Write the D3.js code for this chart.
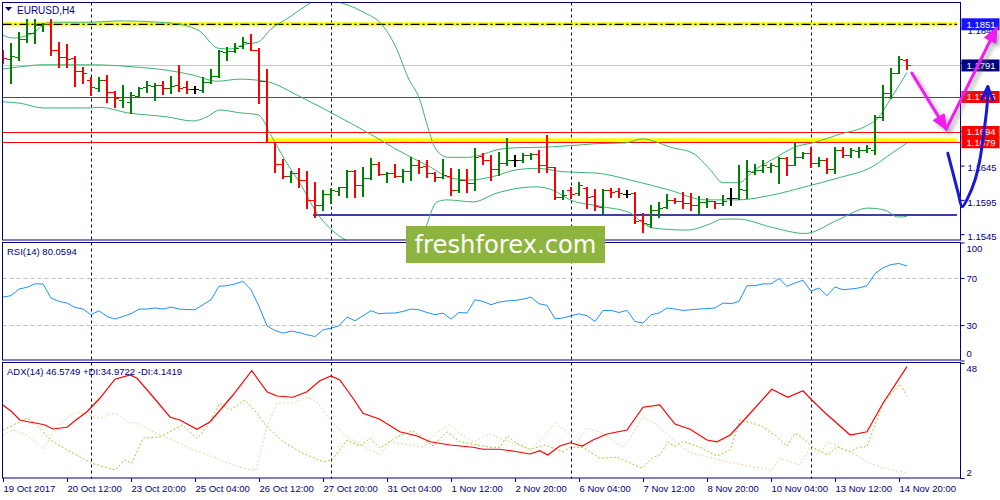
<!DOCTYPE html>
<html><head><meta charset="utf-8">
<script src="https://cdn.jsdelivr.net/npm/d3@7"></script>
<style>
html,body{margin:0;padding:0;background:#fff;}
svg{display:block;font-family:"Liberation Sans",Arial,sans-serif;}
</style></head><body>
<svg id="c" width="1000" height="500"></svg>
<script>
// ---------------- DATA ----------------
const symbol = "EURUSD,H4";
const timeLabels = ["19 Oct 2017","20 Oct 12:00","23 Oct 20:00","25 Oct 04:00","26 Oct 12:00","27 Oct 20:00","31 Oct 04:00","1 Nov 12:00","2 Nov 20:00","6 Nov 04:00","7 Nov 12:00","8 Nov 20:00","10 Nov 04:00","13 Nov 12:00","14 Nov 20:00"];
const timeLabelBars = [0,8,16,24,32,40,48,56,64,72,80,88,96,104,112];
const separatorBars = [11,41,71,101];

const open = [1.1809,1.1800,1.1803,1.1830,1.1838,1.1850,1.1851,1.1814,1.1803,1.1802,
1.1783,1.1770,1.1758,1.1770,1.1752,1.1741,1.1738,1.1746,1.1760,1.1761,
1.1762,1.1758,1.1762,1.1760,1.1757,1.1755,1.1767,1.1776,1.1811,1.1812,
1.1819,1.1824,1.1814,1.1768,1.1679,1.1647,1.1630,1.1634,1.1624,1.1595,
1.1588,1.1604,1.1608,1.1614,1.1637,1.1617,1.1627,1.1647,1.1633,1.1634,
1.1630,1.1637,1.1646,1.1644,1.1634,1.1628,1.1630,1.1609,1.1624,1.1620,
1.1659,1.1653,1.1640,1.1649,1.1653,1.1653,1.1660,1.1662,1.1646,1.1643,
1.1599,1.1609,1.1605,1.1612,1.1601,1.1585,1.1609,1.1608,1.1604,1.1605,
1.1566,1.1560,1.1580,1.1585,1.1595,1.1593,1.1590,1.1588,1.1592,1.1593,
1.1590,1.1598,1.1598,1.1609,1.1636,1.1639,1.1643,1.1644,1.1656,1.1646,
1.1657,1.1663,1.1649,1.1653,1.1640,1.1668,1.1660,1.1666,1.1668,1.1668,
1.1716,1.1751,1.1780,1.1799];
const high = [1.1814,1.1824,1.1840,1.1859,1.1859,1.1853,1.1859,1.1825,1.1822,1.1805,
1.1789,1.1774,1.1774,1.1777,1.1754,1.1762,1.1752,1.1760,1.1768,1.1765,
1.1768,1.1776,1.1792,1.1768,1.1761,1.1774,1.1786,1.1814,1.1818,1.1824,
1.1832,1.1837,1.1816,1.1786,1.1679,1.1655,1.1637,1.1641,1.1637,1.1621,
1.1609,1.1612,1.1614,1.1639,1.1639,1.1643,1.1656,1.1650,1.1636,1.1647,
1.1640,1.1657,1.1653,1.1653,1.1636,1.1655,1.1641,1.1640,1.1640,1.1671,
1.1663,1.1660,1.1665,1.1685,1.1660,1.1663,1.1663,1.1668,1.1690,1.1643,
1.1609,1.1614,1.1621,1.1614,1.1611,1.1611,1.1612,1.1612,1.1609,1.1606,
1.1576,1.1588,1.1592,1.1604,1.1598,1.1606,1.1605,1.1601,1.1598,1.1593,
1.1602,1.1612,1.1646,1.1653,1.1647,1.1653,1.1649,1.1657,1.1657,1.1678,
1.1665,1.1672,1.1657,1.1656,1.1672,1.1672,1.1671,1.1672,1.1675,1.1719,
1.1762,1.1787,1.1805,1.1800];
const low = [1.1795,1.1765,1.1799,1.1825,1.1824,1.1841,1.1806,1.1789,1.1789,1.1761,
1.1765,1.1748,1.1754,1.1738,1.1730,1.1730,1.1722,1.1745,1.1752,1.1741,
1.1749,1.1751,1.1754,1.1751,1.1751,1.1752,1.1765,1.1774,1.1799,1.1811,
1.1816,1.1814,1.1736,1.1679,1.1636,1.1627,1.1621,1.1614,1.1583,1.1570,
1.1580,1.1590,1.1602,1.1599,1.1599,1.1601,1.1625,1.1631,1.1621,1.1628,
1.1621,1.1624,1.1634,1.1628,1.1623,1.1627,1.1602,1.1606,1.1606,1.1609,
1.1647,1.1624,1.1631,1.1646,1.1644,1.1650,1.1655,1.1636,1.1636,1.1596,
1.1596,1.1598,1.1602,1.1583,1.1580,1.1576,1.1599,1.1599,1.1599,1.1561,
1.1548,1.1555,1.1570,1.1583,1.1590,1.1583,1.1580,1.1574,1.1585,1.1583,
1.1588,1.1588,1.1596,1.1598,1.1633,1.1636,1.1636,1.1620,1.1631,1.1646,
1.1656,1.1643,1.1644,1.1634,1.1634,1.1657,1.1657,1.1657,1.1665,1.1662,
1.1711,1.1744,1.1780,1.1786];
const close = [1.1802,1.1805,1.1830,1.1838,1.1850,1.1851,1.1814,1.1803,1.1800,1.1783,
1.1780,1.1760,1.1770,1.1752,1.1744,1.1745,1.1748,1.1758,1.1762,1.1762,
1.1758,1.1761,1.1758,1.1757,1.1757,1.1767,1.1776,1.1812,1.1812,1.1816,
1.1825,1.1814,1.1768,1.1679,1.1647,1.1630,1.1634,1.1624,1.1595,1.1588,
1.1604,1.1609,1.1614,1.1637,1.1617,1.1627,1.1647,1.1633,1.1634,1.1630,
1.1637,1.1646,1.1643,1.1634,1.1628,1.1631,1.1609,1.1624,1.1620,1.1657,
1.1653,1.1640,1.1649,1.1653,1.1653,1.1660,1.1662,1.1646,1.1643,1.1599,
1.1602,1.1604,1.1617,1.1599,1.1586,1.1609,1.1606,1.1605,1.1604,1.1564,
1.1561,1.1580,1.1583,1.1595,1.1593,1.1590,1.1588,1.1592,1.1593,1.1590,
1.1593,1.1598,1.1611,1.1637,1.1639,1.1646,1.1646,1.1656,1.1646,1.1657,
1.1663,1.1649,1.1653,1.1640,1.1668,1.1660,1.1668,1.1668,1.1671,1.1716,
1.1751,1.1780,1.1800,1.1791];

// Bollinger bands: [bar, price]
const bbUpper = [[0,1.1835],[1.25,1.1831],[3.75,1.1838],[5,1.1850],[5.9,1.1854],[11,1.1854],[14.6,1.1856],[19.6,1.1854],[22.5,1.1850],[24.6,1.1841],[26.9,1.1816],[28.4,1.1815],[30.25,1.1822],[31.9,1.1825],[33.4,1.1843],[35.9,1.1862],[37.1,1.1872],[38.4,1.1882],[39.6,1.1891],[41.25,1.1886],[45,1.1869],[47.4,1.1850],[49.25,1.1814],[50.6,1.1774],[52.1,1.1741],[53.1,1.1701],[54,1.1671],[55.6,1.1657],[58.1,1.1657],[59.6,1.1660],[61.75,1.1668],[64.25,1.1671],[68,1.1672],[70.9,1.1674],[74.25,1.1677],[77.75,1.1678],[80,1.1684],[81.75,1.1679],[83.4,1.1672],[86.25,1.1663],[88.4,1.1639],[90,1.1620],[91.9,1.1620],[94,1.1639],[96.5,1.1656],[99,1.1672],[101.5,1.1679],[104.4,1.1690],[108.1,1.1704],[109.25,1.1713],[111.1,1.1745],[113,1.1781]];
const bbMiddle = [[0,1.1786],[2.1,1.1789],[5,1.1792],[10.9,1.1792],[16.25,1.1789],[20.5,1.1784],[23.75,1.1777],[26.75,1.1768],[29.6,1.1771],[32.75,1.1768],[37.4,1.1744],[41.5,1.1719],[45.6,1.1693],[49.25,1.1668],[53.4,1.1643],[55.9,1.1627],[58.4,1.1624],[60.9,1.1628],[64.25,1.1639],[66.75,1.1641],[70,1.1636],[74.25,1.1634],[78.4,1.1624],[83.4,1.1609],[87.75,1.1595],[91.9,1.1595],[96.1,1.1602],[100.25,1.1614],[104.4,1.1627],[108.6,1.1643],[111.1,1.1663],[113,1.1678]];
const bbLower = [[0,1.1738],[2.1,1.1736],[5,1.1729],[10.9,1.1729],[12.1,1.1730],[15.5,1.1722],[20.5,1.1716],[23.75,1.1710],[25.5,1.1716],[27.1,1.1726],[29.6,1.1722],[31.9,1.1719],[33.6,1.1687],[35.25,1.1653],[37.4,1.1614],[39,1.1580],[41.1,1.1551],[42.75,1.1537],[47,1.1515],[52.1,1.1537],[54.25,1.1592],[55.5,1.1595],[58.75,1.1592],[61.75,1.1605],[66.75,1.1614],[68.75,1.1609],[70.9,1.1595],[75,1.1585],[78.4,1.1576],[80,1.1561],[81.25,1.1554],[85.5,1.1551],[88.4,1.1560],[89.9,1.1567],[91.9,1.1567],[96.1,1.1555],[100.25,1.1546],[104.4,1.1566],[108.1,1.1583],[110.25,1.1580],[111.9,1.1570],[113,1.1571]];

const rsi = [53.8,54.9,60.6,62.0,64.9,64.9,53.0,50.1,48.7,45.0,
43.6,38.8,42.2,37.3,35.1,37.3,39.6,43.6,43.6,44.5,
43.6,45.3,43.6,43.2,43.0,47.3,51.5,62.9,63.4,64.9,
67.1,60.0,45.8,29.4,25.4,23.2,24.9,23.7,21.8,20.3,
26.0,27.4,29.4,36.8,33.7,37.9,42.2,39.6,40.2,40.2,
41.6,43.6,43.0,40.7,38.8,40.2,35.1,40.7,40.2,51.5,
50.1,47.3,49.5,50.5,50.9,52.0,53.8,48.1,46.7,35.4,
36.0,37.9,39.6,37.9,33.1,42.4,42.4,40.7,42.4,33.1,
31.7,38.8,40.2,44.5,43.6,42.4,43.0,43.6,44.0,44.5,
48.7,48.1,50.1,63.4,63.4,64.9,65.0,69.4,62.9,65.7,
68.0,58.6,61.5,54.9,62.3,60.0,60.6,61.5,63.4,73.7,
78.5,81.3,82.2,80.0594];
const rsiLevels = [30,70];
const rsiTicks = [0,30,70,100];

const adx = [[0,31.2],[1.1,28.5],[2.1,25.2],[3.1,24.5],[4.25,23.9],[5.25,23.2],[6.25,21.6],[8,22.3],[9.4,25.9],[10.5,28.5],[12.1,33.9],[14,41.5],[15.9,43.2],[16.75,41.9],[18.75,34.5],[20.9,26.3],[22.1,25.2],[24.25,21.5],[25.9,24.5],[28.75,35.2],[31.1,44.9],[33,36.5],[34.25,34.8],[36.25,34.3],[38,36.5],[39.6,40.9],[41,42.8],[42.1,41.2],[43.75,33.9],[45,27.9],[47.1,25.5],[49.6,20.5],[51.75,18.8],[53.4,16.5],[55.9,15.2],[58.75,14.3],[60,13.5],[62.1,13.5],[64.25,12.5],[65.9,11.6],[67.1,12.9],[68.1,11.2],[69.6,14.8],[70.9,16.1],[72.4,14.8],[73.75,17.2],[75.5,19.6],[78,21.2],[80,30.3],[82.1,31.2],[84,23.6],[85.9,21.5],[88,17.2],[89.25,16.5],[90.9,19.2],[93,26.5],[96.1,37.5],[98.1,34.3],[100,36.9],[101.1,33.2],[102.75,28.1],[105.9,19.2],[108,20.5],[110,31.9],[113,46.5749]];
const plusDI = [[0,21.2],[3,25.9],[4.25,23.2],[5.9,17.2],[8,13.2],[9.6,10.5],[11.1,7.9],[14,5.2],[15.25,9.2],[16.1,7.9],[17.5,17.9],[19.6,18.5],[22.4,23.2],[24.25,17.9],[25.5,22.5],[27.1,31.9],[28.4,29.2],[30.25,33.1],[31.75,27.9],[33,22.5],[35,16.5],[37.1,12.5],[40,8.5],[41.1,9.2],[43,17.2],[44.6,14.8],[45.9,17.9],[47.1,13.9],[49.25,18.5],[51.25,20.9],[53.75,14.8],[55.5,20.5],[57.1,16.5],[60.9,14.3],[62.1,14.3],[63,18.8],[64.25,15.9],[65.9,13.5],[67.75,15.2],[70,12.5],[70.9,14.3],[72.5,14.3],[74.6,9.9],[76.75,10.3],[79.9,5.9],[81.25,10.3],[82.1,11.2],[83.1,16.3],[84,14.7],[85,16.7],[87.1,14.3],[89.25,10.8],[90.9,13.2],[92.1,25.2],[93.75,23.9],[95,22.5],[96.75,18.5],[98,14.8],[99,19.9],[100,17.9],[101.1,14.5],[102.1,12.9],[103.1,11.2],[104.25,14.5],[105.9,12.5],[106.9,14.3],[108,14.5],[110,31.9],[112.1,39.6],[113,34.9722]];
const minusDI = [[0,19.2],[1.25,21.2],[3,19.2],[5,13.5],[6.9,23.2],[9.25,28.5],[10.5,27.2],[12.1,25.9],[13.4,27.6],[14.25,27.6],[15.5,24.5],[16.75,23.9],[18.75,20.5],[21.25,17.2],[23.75,13.2],[26.25,10.5],[28.75,7.2],[30.9,5.2],[31.6,5.2],[33,22.5],[34.25,31.9],[36.25,32.1],[38,34.3],[39.25,32.5],[40.9,25.2],[43,18.5],[45.5,13.9],[47.1,11.2],[48.4,16.5],[49.6,15.9],[52.5,14.3],[54.25,20.5],[55.9,23.2],[57.1,19.9],[58.75,16.5],[60.9,19.6],[62.1,17.9],[64.6,14.8],[65.9,13.2],[67.1,17.2],[69,23.9],[70.5,20.5],[71.75,16.5],[73,21.9],[74.6,20.5],[77.5,14.3],[78.4,17.9],[80,26.5],[81.75,23.2],[83.75,17.2],[85.9,12.1],[88,10.5],[90.5,8.5],[93.75,6.5],[96.1,5.2],[97.1,9.9],[99.6,7.2],[100.9,14.3],[102.1,11.6],[103.1,16.5],[105.9,12.5],[108,8.5],[110,5.9],[113,4.1419]];
const adxTicks = [2,48];

const priceTicks = [1.1545,1.1595,1.1645,1.1695,1.1745,1.1795,1.1845];
const priceTickLabels = [1.1545,1.1595,1.1645,1.1845];   // the others sit under price boxes
const resistanceTop = 1.1851;
const bidPrice = 1.1791;
const redLevels = [1.1745,1.1694,1.1679];
const zoneLevel = 1.1679;
const zoneStartBar = 33;
const supportLevel = 1.1573;
const supportStartBar = 39;
const labelPrices = [1.1851,1.1791,1.1745,1.1694,1.1679];
const labelTexts = ["1.1851","1.1791","1.1745","1.1694","1.1679"];

// hand-drawn forecast arrows, in [bar, price]
const arrowDown = [[113.6,1.1780],[117.9,1.1698]];
const arrowUp = [[117.9,1.1698],[124.2,1.1846]];
const blueCurve = [[118.1,1.1663],[118.75,1.1634],[119.4,1.1605],[119.9,1.1585],[120.6,1.1598],[121.5,1.1624],[122.1,1.1653],[122.6,1.1693],[123,1.1731],[123.1,1.1760]];

const rsiTitle = "RSI(14) 80.0594";
const adxTitle = "ADX(14) 46.5749 +DI:34.9722 -DI:4.1419";
const watermark = "freshforex.com";

// ---------------- LAYOUT ----------------
const svg = d3.select("#c");
const L = 2.5, R = 960.5;
const mainP = {top: 2.5, bottom: 240.5};
const rsiP = {top: 242.5, bottom: 360.5};
const adxP = {top: 362.5, bottom: 478.5};
const NAVY = "#000080";

const x = d3.scaleLinear().domain([0, 113]).range([3, 907]);
const y = d3.scaleLinear().domain([1.15365, 1.18835]).range([240, 2]);
const yR = d3.scaleLinear().domain([0, 100]).range([360.5, 242.5]);
const yA = d3.scaleLinear().domain([2, 48]).range([478, 363]);

const defs = svg.append("defs");
[["clipMain", mainP], ["clipRsi", rsiP], ["clipAdx", adxP]].forEach(([id, p]) => {
  defs.append("clipPath").attr("id", id).append("rect")
    .attr("x", L).attr("y", p.top).attr("width", R - L).attr("height", p.bottom - p.top);
});
const blur = defs.append("filter").attr("id", "blur").attr("x", "-20%").attr("y", "-50%").attr("width", "140%").attr("height", "200%");
blur.append("feGaussianBlur").attr("stdDeviation", 1.6);
const blur2 = defs.append("filter").attr("id", "blur2").attr("x", "-30%").attr("y", "-30%").attr("width", "160%").attr("height", "160%");
blur2.append("feGaussianBlur").attr("stdDeviation", 2);

svg.append("rect").attr("width", 1000).attr("height", 500).attr("fill", "#fff");

// separators (through all panels)
svg.append("g").selectAll("line").data(separatorBars).join("line")
  .attr("x1", d => Math.round(x(d)) + 0.5).attr("x2", d => Math.round(x(d)) + 0.5)
  .attr("y1", mainP.top).attr("y2", adxP.bottom)
  .attr("stroke", NAVY).attr("stroke-width", 1).attr("stroke-dasharray", "3,3");

// ---------------- MAIN PANEL ----------------
const gm = svg.append("g").attr("clip-path", "url(#clipMain)");
const xRight = 957;

gm.append("line").attr("x1", L).attr("x2", xRight).attr("y1", y(resistanceTop) + 4).attr("y2", y(resistanceTop) + 4)
  .attr("stroke", "#8a8a8a").attr("stroke-width", 5).attr("opacity", 0.8).attr("filter", "url(#blur)");
gm.append("line").attr("x1", x(zoneStartBar)).attr("x2", xRight).attr("y1", y(zoneLevel) + 3).attr("y2", y(zoneLevel) + 3)
  .attr("stroke", "#8a8a8a").attr("stroke-width", 5).attr("opacity", 0.8).attr("filter", "url(#blur)");
gm.append("line").attr("x1", x(supportStartBar) - 2).attr("x2", xRight).attr("y1", y(supportLevel) + 3).attr("y2", y(supportLevel) + 3)
  .attr("stroke", "#8a8a8a").attr("stroke-width", 4).attr("opacity", 0.7).attr("filter", "url(#blur)");

gm.append("line").attr("x1", L).attr("x2", R).attr("y1", Math.round(y(bidPrice)) + 0.5).attr("y2", Math.round(y(bidPrice)) + 0.5)
  .attr("stroke", "#c8c8c8").attr("stroke-width", 1);

gm.append("line").attr("x1", L).attr("x2", xRight).attr("y1", y(resistanceTop)).attr("y2", y(resistanceTop))
  .attr("stroke", "#ffff00").attr("stroke-width", 4);
gm.append("line").attr("x1", L).attr("x2", xRight).attr("y1", y(resistanceTop)).attr("y2", y(resistanceTop))
  .attr("stroke", "#000").attr("stroke-width", 1.3).attr("stroke-dasharray", "9,3,2,3");

gm.append("line").attr("x1", x(zoneStartBar)).attr("x2", xRight).attr("y1", y(zoneLevel) - 2).attr("y2", y(zoneLevel) - 2)
  .attr("stroke", "#ffff00").attr("stroke-width", 4);

gm.append("g").selectAll("line").data(redLevels).join("line")
  .attr("x1", L).attr("x2", R)
  .attr("y1", d => Math.round(y(d)) + 0.5).attr("y2", d => Math.round(y(d)) + 0.5)
  .attr("stroke", "#ff0000").attr("stroke-width", 1);

gm.append("line").attr("x1", x(supportStartBar) - 2).attr("x2", xRight).attr("y1", y(supportLevel)).attr("y2", y(supportLevel))
  .attr("stroke", "#3f3f9f").attr("stroke-width", 2);

const bandLine = d3.line().x(d => x(d[0])).y(d => y(d[1])).curve(d3.curveMonotoneX);
gm.append("g").selectAll("path").data([bbUpper, bbMiddle, bbLower]).join("path")
  .attr("d", bandLine).attr("fill", "none").attr("stroke", "#3cb371").attr("stroke-width", 1);

const bars = d3.range(open.length).map(i => ({i, o: open[i], h: high[i], l: low[i], c: close[i]}));
const barCol = d => d.c > d.o ? "#008000" : (d.c < d.o ? "#ff0000" : "#000000");
const gb = gm.append("g").attr("shape-rendering", "crispEdges");
const bg = gb.selectAll("g").data(bars).join("g");
bg.append("line").attr("x1", d => x(d.i)).attr("x2", d => x(d.i))
  .attr("y1", d => Math.round(y(d.h))).attr("y2", d => Math.round(y(d.l)) + 1)
  .attr("stroke", barCol).attr("stroke-width", 2);
bg.append("line").attr("x1", d => x(d.i) - 4).attr("x2", d => x(d.i))
  .attr("y1", d => Math.round(y(d.o)) + 0.5).attr("y2", d => Math.round(y(d.o)) + 0.5)
  .attr("stroke", barCol).attr("stroke-width", 1);
bg.append("line").attr("x1", d => x(d.i)).attr("x2", d => x(d.i) + 4)
  .attr("y1", d => Math.round(y(d.c)) + 0.5).attr("y2", d => Math.round(y(d.c)) + 0.5)
  .attr("stroke", barCol).attr("stroke-width", 1);

// ---------------- RSI PANEL ----------------
const gr = svg.append("g").attr("clip-path", "url(#clipRsi)");
gr.append("g").selectAll("line").data(rsiLevels).join("line")
  .attr("x1", L).attr("x2", R).attr("y1", d => Math.round(yR(d)) + 0.5).attr("y2", d => Math.round(yR(d)) + 0.5)
  .attr("stroke", "#c0c0c0").attr("stroke-dasharray", "4,3");
gr.append("path").datum(rsi)
  .attr("d", d3.line().x((d, i) => x(i)).y(d => yR(d)))
  .attr("fill", "none").attr("stroke", "#1e90ff").attr("stroke-width", 1);

// ---------------- ADX PANEL ----------------
const ga = svg.append("g").attr("clip-path", "url(#clipAdx)");
const aLine = d3.line().x(d => x(d[0])).y(d => yA(d[1]));
ga.append("path").datum(minusDI).attr("d", aLine).attr("fill", "none")
  .attr("stroke", "#f0cf9e").attr("stroke-width", 1).attr("stroke-dasharray", "2,2");
ga.append("path").datum(plusDI).attr("d", aLine).attr("fill", "none")
  .attr("stroke", "#9acd32").attr("stroke-width", 1).attr("stroke-dasharray", "2,2");
ga.append("path").datum(adx).attr("d", aLine).attr("fill", "none")
  .attr("stroke", "#ff0000").attr("stroke-width", 1.2);

// ---------------- BORDERS ----------------
[mainP, rsiP, adxP].forEach(p => {
  svg.append("rect").attr("x", L).attr("y", p.top).attr("width", R - L).attr("height", p.bottom - p.top - 0.5)
    .attr("fill", "none").attr("stroke", NAVY).attr("stroke-width", 1);
});

// ---------------- AXES ----------------
function styleAxis(g) {
  g.select(".domain").remove();
  g.selectAll(".tick line").attr("stroke", NAVY);
  g.selectAll(".tick text").attr("fill", NAVY).attr("font-size", "9.5px").attr("font-family", "Liberation Sans, Arial, sans-serif");
}
const axP = svg.append("g").attr("transform", `translate(${R},0)`)
  .call(d3.axisRight(y).tickValues(priceTicks).tickSize(4).tickPadding(3)
    .tickFormat(d => priceTickLabels.includes(d) ? d3.format(".4f")(d) : ""));
styleAxis(axP);
axP.selectAll(".tick text").attr("dy", "0.55em");

const axR = svg.append("g").attr("transform", `translate(${R},0)`)
  .call(d3.axisRight(yR).tickValues(rsiTicks).tickSize(4).tickPadding(2));
styleAxis(axR);
axR.selectAll(".tick text").attr("dy", d => d === 100 ? "0.95em" : (d === 0 ? "-0.4em" : "0.35em"));

const axA = svg.append("g").attr("transform", `translate(${R},0)`)
  .call(d3.axisRight(yA).tickValues(adxTicks).tickSize(4).tickPadding(2));
styleAxis(axA);
axA.selectAll(".tick text").attr("dy", d => d === 48 ? "0.85em" : "-0.25em");

const axX = svg.append("g").attr("transform", `translate(0,${adxP.bottom - 0.5})`)
  .call(d3.axisBottom(x).tickValues(timeLabelBars).tickSize(4).tickPadding(3).tickFormat((d, i) => timeLabels[i]));
styleAxis(axX);
axX.selectAll(".tick text").attr("text-anchor", "start");

// ---------------- PRICE LABEL BOXES ----------------
const boxFill = ["#1414ff", "#000080", "#ff0000", "#ff0000", "#ff0000"];
const lb = svg.append("g").selectAll("g").data(labelPrices).join("g");
lb.append("rect").attr("x", R + 1).attr("y", d => y(d) - 6).attr("width", 38).attr("height", 12)
  .attr("fill", (d, i) => boxFill[i]);
lb.append("text").attr("x", R + 6).attr("y", d => y(d)).attr("dy", "0.35em")
  .attr("fill", "#fff").attr("font-size", "9.5px").text((d, i) => labelTexts[i]);

// ---------------- TITLES ----------------
svg.append("path").attr("d", "M5,7 L12,7 L8.5,11 Z").attr("fill", NAVY);
svg.append("text").attr("x", 17).attr("y", 14).attr("fill", NAVY).attr("font-size", "10px").text(symbol);
svg.append("text").attr("x", 7).attr("y", 255).attr("fill", NAVY).attr("font-size", "9.5px").text(rsiTitle);
svg.append("text").attr("x", 7).attr("y", 375).attr("fill", NAVY).attr("font-size", "9.5px").text(adxTitle);

// ---------------- ARROWS ----------------
const ga2 = svg.append("g");
const P = d => [x(d[0]), y(d[1])];
function head(p0, p1, len, wid) {
  const dx = p1[0] - p0[0], dy = p1[1] - p0[1], n = Math.hypot(dx, dy);
  const ux = dx / n, uy = dy / n;
  const bx = p1[0] - ux * len, by = p1[1] - uy * len;
  return [[bx - uy * wid, by + ux * wid], p1, [bx + uy * wid, by - ux * wid]];
}
const curveGen = d3.line().curve(d3.curveCatmullRom);
function drawArrow(pts, color, filled, shadow) {
  const g = ga2.append("g");
  const pp = pts.map(P);
  const h = head(pp[pp.length - 2], pp[pp.length - 1], 14, 6);
  const shapes = (gg, col) => {
    gg.append("path").attr("d", curveGen(pp)).attr("fill", "none").attr("stroke", col).attr("stroke-width", 3).attr("stroke-linecap", "round");
    if (filled) gg.append("path").attr("d", d3.line()(h) + "Z").attr("fill", col).attr("stroke", col).attr("stroke-width", 1.5).attr("stroke-linejoin", "round");
    else gg.append("path").attr("d", d3.line()(h)).attr("fill", "none").attr("stroke", col).attr("stroke-width", 3).attr("stroke-linejoin", "round");
  };
  if (shadow) shapes(g.append("g").attr("transform", "translate(3,3)").attr("filter", "url(#blur2)").attr("opacity", 0.6), "#777");
  shapes(g, color);
}
drawArrow(arrowDown, "#f01cf0", true, true);
drawArrow(arrowUp, "#f01cf0", true, true);
drawArrow(blueCurve, "#1818d8", false, false);

// ---------------- WATERMARK ----------------
const wm = svg.append("g");
wm.append("rect").attr("x", 406).attr("y", 226).attr("width", 199).attr("height", 37).attr("fill", "#8db43e");
wm.append("text").attr("x", 505.5).attr("y", 253).attr("text-anchor", "middle")
  .attr("font-family", "DejaVu Sans, sans-serif").attr("font-size", "24px").attr("fill", "#fff")
  .attr("textLength", 182).attr("lengthAdjust", "spacingAndGlyphs").text(watermark);
</script>
</body></html>
